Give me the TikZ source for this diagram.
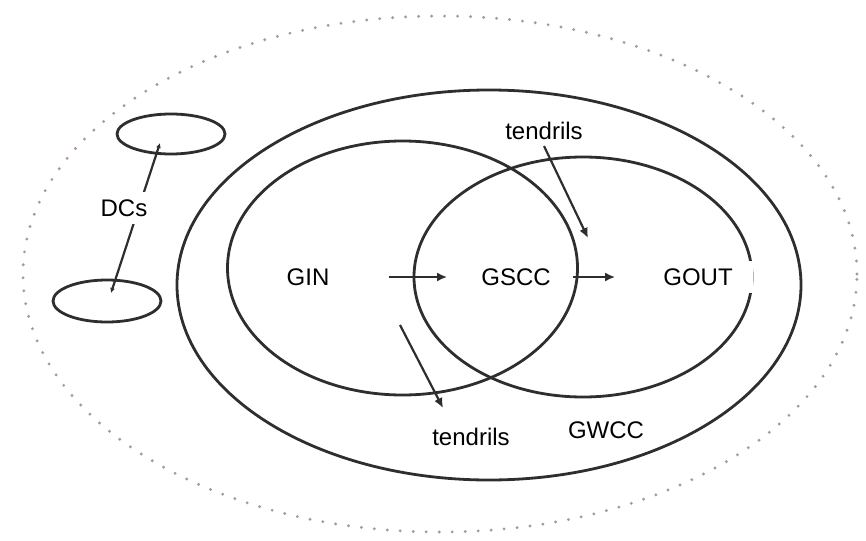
\documentclass[tikz,border=0pt]{standalone}
\usepackage{fontspec}
\setmainfont{Liberation Sans}
\usetikzlibrary{arrows.meta}
\begin{document}
\begin{tikzpicture}[x=1pt,y=-1pt,
  ring/.style={draw=black!82, line width=2.8pt},
  lbl/.style={fill=white, font=\fontsize{24}{28}\selectfont, inner xsep=14pt, inner ysep=8pt},
  arr/.style={draw=black!82, line width=2.2pt, -{Latex[length=10pt,width=9pt]}},
  dcarr/.style={draw=black!82, line width=2.2pt, {Latex[length=5pt,width=5pt]}-{Latex[length=5pt,width=5pt]}},
  dots/.style={draw={rgb,255:red,170;green,152;blue,150}, line width=3.2pt, line cap=round, dash pattern=on 0pt off 13pt}]
\useasboundingbox (0,0) rectangle (866,540);
% outer dotted boundary
\draw[dots] (440,274) ellipse [x radius=417pt, y radius=258pt];
% components
\draw[ring] (489,285) ellipse [x radius=312pt, y radius=195pt];
\draw[ring] (402.5,268) ellipse [x radius=175pt, y radius=127pt];
\draw[ring] (583,277) ellipse [x radius=169pt, y radius=120pt];
\draw[ring] (171,134) ellipse [x radius=54pt, y radius=20pt];
\draw[ring] (107,301) ellipse [x radius=54pt, y radius=21pt];
% DC connector
\coordinate (dct) at (160,143);
\coordinate (dcb) at (111,293);
\draw[dcarr] (dct) -- (dcb);
% labels
\node[lbl, inner xsep=24pt] (dcs) at (124,208) {DCs};
\node[lbl] (gin) at (308,277) {GIN};
\node[lbl, inner xsep=10pt] (gscc) at (516,277) {GSCC};
\node[lbl, inner xsep=20pt] (gout) at (698,277) {GOUT};
\node[lbl, inner ysep=6pt] (tendt) at (544,131) {tendrils};
\node[lbl, inner ysep=6pt] (tendb) at (471,437) {tendrils};
\node[lbl, inner ysep=6pt] (gwcc) at (606,430) {GWCC};
% flows
\draw[arr, shorten <=45pt, shorten >=24pt] (gin) -- (gscc);
\draw[arr, shorten <=12pt, shorten >=28pt] (gscc) -- (gout);
\coordinate (tt) at (588,238);
\draw[arr] (tendt.south) -- (tt);
\coordinate (bs) at (400,325);
\coordinate (bt) at (443,408);
\draw[arr] (bs) -- (bt);
\end{tikzpicture}
\end{document}
